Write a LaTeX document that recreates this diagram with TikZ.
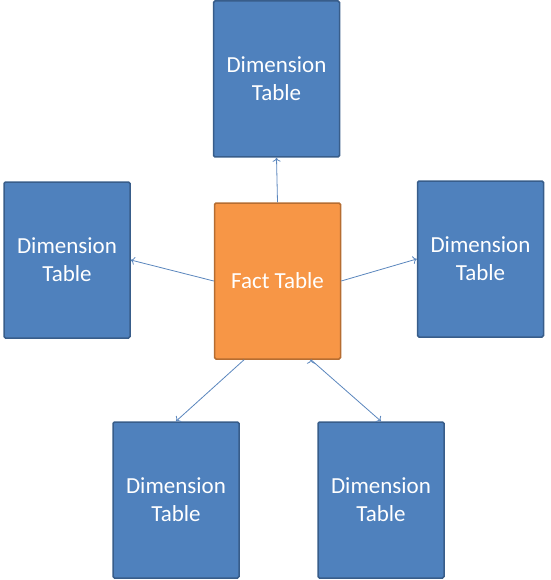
\documentclass[tikz,border=0pt]{standalone}
\usepackage{fontspec}
\setmainfont{Carlito}
\usetikzlibrary{arrows.meta}
\definecolor{dimfill}{HTML}{4F81BD}
\definecolor{dimborder}{HTML}{385D8A}
\definecolor{factfill}{HTML}{F79646}
\definecolor{factborder}{HTML}{B66D31}
\definecolor{linkblue}{HTML}{5A86BD}

\begin{document}
\begin{tikzpicture}[->,>={To[length=4pt,width=8pt]},x=1pt,y=-1pt,
        dim node/.style={rectangle,draw=dimborder,fill=dimfill,line width=1.5pt,
            rounded corners=1.5pt,minimum width=126pt,minimum height=156pt,
            text=white,align=center,font=\fontsize{23}{28}\selectfont},
        fact node/.style={dim node,draw=factborder,fill=factfill}]

    \useasboundingbox (0,0) rectangle (550,580);

    \node[fact node] (fact) at (277.5,281) {Fact Table};
    \node[dim node] (top) at (276.5,79) {Dimension\\Table};
    \node[dim node] (left) at (67,260) {Dimension\\Table};
    \node[dim node] (right) at (480.5,259) {Dimension\\Table};
    \node[dim node] (botleft) at (176,500) {Dimension\\Table};
    \node[dim node] (botright) at (381,500) {Dimension\\Table};

    \path[draw=linkblue,line width=0.8pt]
    (fact.north) edge (top.south)
    (fact.west) edge (left.east)
    (fact.east) edge (right.west)
    (fact.-113) edge (botleft.north)
    (fact.-67) edge (botright.north);

\end{tikzpicture}
\end{document}
